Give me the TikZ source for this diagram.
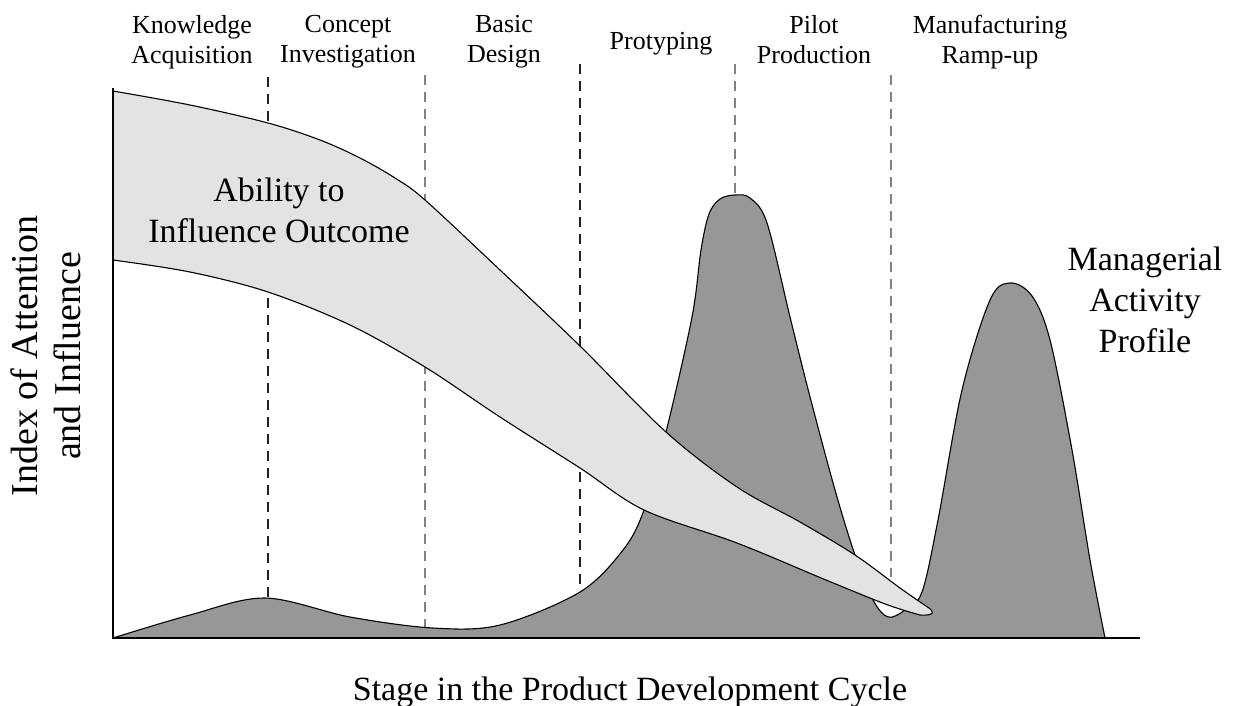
\documentclass[tikz,border=0pt]{standalone}
\usepackage{fontspec}
\setmainfont{Liberation Serif}
\definecolor{bandfill}{HTML}{E3E3E3}
\definecolor{actfill}{HTML}{979797}
\definecolor{dashblack}{HTML}{222222}
\definecolor{dashgray}{HTML}{808080}
\tikzset{
  toplab/.style={align=center,inner sep=0pt,font=\fontsize{26}{30}\selectfont},
  biglab/.style={align=center,inner sep=0pt,font=\fontsize{34}{41}\selectfont},
  axislab/.style={align=center,inner sep=0pt,font=\fontsize{38}{43}\selectfont},
  xaxislab/.style={inner sep=0pt,font=\fontsize{34}{40}\selectfont},
  curveline/.style={draw=black,line width=1.1pt,line join=round},
  axisline/.style={draw=black,line width=1.6pt},
  blackdash/.style={draw=dashblack,line width=1.4pt,dash pattern=on 10pt off 7pt},
  graydash/.style={draw=dashgray,line width=1.4pt,dash pattern=on 10pt off 7pt},
}
\begin{document}
\begin{tikzpicture}[x=1pt,y=-1pt]
\useasboundingbox (0,0) rectangle (1241,705);
% stage dividers (drawn first, covered by the curves)
\coordinate (d1t) at (268,77);  \coordinate (d1b) at (268,597);
\coordinate (d2t) at (425,75);  \coordinate (d2b) at (425,627);
\coordinate (d3t) at (580,64);  \coordinate (d3b) at (580,591);
\coordinate (d4t) at (735,64);  \coordinate (d4b) at (735,194);
\coordinate (d5t) at (891,75);  \coordinate (d5b) at (891,577);
\draw[blackdash] (d1t) -- (d1b);
\draw[graydash] (d2t) -- (d2b);
\draw[blackdash] (d3t) -- (d3b);
\draw[graydash] (d4t) -- (d4b);
\draw[graydash] (d5t) -- (d5b);
% activity profile
\path[curveline,fill=actfill] (113,638) -- plot[smooth,tension=0.55] coordinates {
 (113,638) (190,615) (265,598) (350,617) (433,628) (500,625) (580,592)
 (623,550) (644,510) (666,432) (692,317) (701,250) (709,214) (720,199) (735,195)
 (750,198) (767,223) (790,317) (809,393) (835,490) (855,555) (873,600)
 (888,617) (905,610) (922,592) (938,520) (962,390) (990,300) (1010,283)
 (1032,296) (1050,340) (1072,450) (1090,560) (1105,638)} -- cycle;
% ability band
\path[curveline,fill=bandfill] plot[smooth,tension=0.55] coordinates {
 (113,91) (190,105) (268,123) (320,140) (360,158) (395,178) (425,200)
 (500,270) (580,346) (666,432) (737,487) (800,522) (855,555) (900,588) (926,606)}
 .. controls (936,612) and (934,616) .. (920,615)
 -- plot[smooth,tension=0.55] coordinates {
 (920,615) (903,610) (880,602) (826,580) (737,543) (644,510) (580,468)
 (500,417) (425,367) (350,325) (268,292) (190,272) (113,260)} -- cycle;
% axes
\coordinate (origin) at (113,638);
\coordinate (ytop) at (113,88);
\coordinate (xend) at (1140,638);
\draw[axisline] (ytop) -- (origin) -- (xend);
% labels
\node[toplab] (ka) at (192,42) {Knowledge\\Acquisition};
\node[toplab] (ci) at (348,42) {Concept\\Investigation};
\node[toplab] (bd) at (504,42) {Basic\\Design};
\node[toplab,anchor=base] (pr) at (661,49) {Protyping};
\node[toplab] (pp) at (814,40) {Pilot\\Production};
\node[toplab] (mr) at (990,42) {Manufacturing\\Ramp-up};
\node[biglab] (ab) at (279,210) {Ability to\\Influence Outcome};
\node[biglab] (ma) at (1145,300) {Managerial\\Activity\\Profile};
\node[axislab,rotate=90] (yl) at (46,356) {Index of Attention\\and Influence};
\node[xaxislab,anchor=base] (xl) at (630,700) {Stage in the Product Development Cycle};
\end{tikzpicture}
\end{document}
